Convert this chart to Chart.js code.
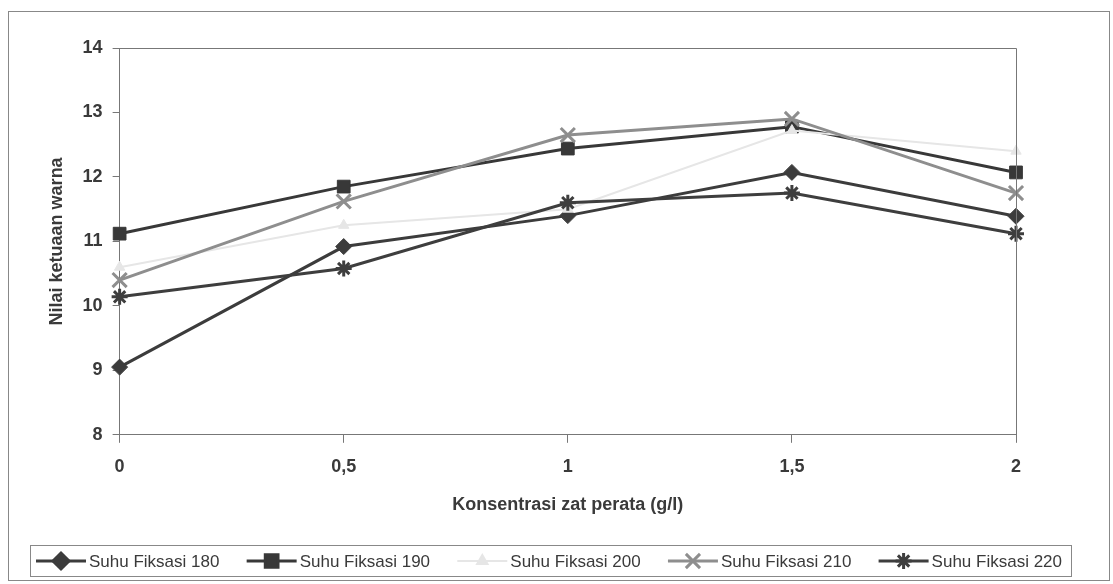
<!DOCTYPE html>
<html>
<head>
<meta charset="utf-8">
<script src="https://cdn.jsdelivr.net/npm/chart.js"></script>
<style>
  html, body { margin: 0; padding: 0; background: #fff; }
  #wrap { width: 1113px; height: 584px; }
</style>
</head>
<body>
<div id="wrap"><canvas id="c" width="1113" height="584"></canvas></div>
<script>
const labels = ['0', '0,5', '1', '1,5', '2'];
const suhu180 = [9.05, 10.92, 11.4, 12.07, 11.39];
const suhu190 = [11.12, 11.85, 12.44, 12.78, 12.07];
const suhu200 = [10.6, 11.25, 11.5, 12.72, 12.4];
const suhu210 = [10.4, 11.62, 12.65, 12.9, 11.75];
const suhu220 = [10.14, 10.58, 11.6, 11.75, 11.12];
const seriesNames = ['Suhu Fiksasi 180', 'Suhu Fiksasi 190', 'Suhu Fiksasi 200', 'Suhu Fiksasi 210', 'Suhu Fiksasi 220'];

const textCol = '#3a3a3a';

function ds(label, data, color, style, radius, bw, width, order) {
  return {
    label, data, order,
    borderColor: color, backgroundColor: color,
    borderWidth: width,
    pointStyle: style, pointRadius: radius,
    pointBorderWidth: bw,
    pointBackgroundColor: color, pointBorderColor: color,
    tension: 0
  };
}

// box around plot, outer frame and the legend
const frame = {
  id: 'frame',
  afterDraw(chart) {
    const ctx = chart.ctx, a = chart.chartArea;
    ctx.save();
    ctx.strokeStyle = '#777';
    ctx.lineWidth = 1;
    ctx.beginPath();
    ctx.moveTo(a.left, a.top + 0.5);
    ctx.lineTo(Math.round(a.right) + 0.5, a.top + 0.5);
    ctx.lineTo(Math.round(a.right) + 0.5, a.bottom);
    ctx.stroke();
    ctx.strokeStyle = '#888';
    ctx.strokeRect(8.5, 11.5, 1101, 569);

    // legend
    const bx = 30.5, by = 545.5, bw = 1041, bh = 31;
    ctx.strokeRect(bx, by, bw, bh);
    ctx.font = '17px "Liberation Sans", Arial, sans-serif';
    ctx.textBaseline = 'middle';
    ctx.fillStyle = textCol;
    const sets = chart.data.datasets;
    const lineLen = 50, gapT = 3;
    let total = 0;
    const widths = sets.map(d => ctx.measureText(d.label).width);
    widths.forEach(w => total += lineLen + gapT + w);
    const x0 = 36, x1 = 1062;
    const gap = (x1 - x0 - total) / (sets.length - 1);
    let x = x0;
    const cy = by + bh / 2;
    sets.forEach((d, i) => {
      ctx.strokeStyle = d.borderColor;
      ctx.lineWidth = d.borderWidth;
      ctx.beginPath();
      ctx.moveTo(x, cy);
      ctx.lineTo(x + lineLen, cy);
      ctx.stroke();
      ctx.fillStyle = d.backgroundColor;
      Chart.helpers.drawPoint(ctx, {
        pointStyle: d.pointStyle, radius: d.pointRadius,
        rotation: 0, borderWidth: d.pointBorderWidth
      }, x + lineLen / 2, cy);
      ctx.fillStyle = textCol;
      ctx.fillText(d.label, x + lineLen + gapT, cy + 1);
      x += lineLen + gapT + widths[i] + gap;
    });
    ctx.restore();
  }
};

new Chart(document.getElementById('c'), {
  type: 'line',
  data: {
    labels: labels,
    datasets: [
      ds(seriesNames[0], suhu180, '#3c3c3c', 'rectRot', 8, 1, 3, 5),
      ds(seriesNames[1], suhu190, '#383838', 'rect', 9, 1, 3, 4),
      ds(seriesNames[2], suhu200, '#e6e6e6', 'triangle', 6, 1, 2, 3),
      ds(seriesNames[3], suhu210, '#8e8e8e', 'crossRot', 10, 3, 3, 2),
      ds(seriesNames[4], suhu220, '#3e3e3e', 'star', 8, 3, 3, 1)
    ]
  },
  options: {
    responsive: false,
    animation: false,
    layout: { padding: { left: 24, right: 97, top: 48, bottom: 64 } },
    plugins: { legend: { display: false }, tooltip: { enabled: false } },
    scales: {
      x: {
        offset: false,
        grid: { drawOnChartArea: false, drawTicks: true, tickLength: 8, color: '#777' },
        border: { display: true, color: '#777', width: 1 },
        ticks: { color: textCol, padding: 13, maxRotation: 0,
          font: { family: '"Liberation Sans", Arial, sans-serif', size: 18, weight: 'bold' } },
        title: { display: true, text: 'Konsentrasi zat perata (g/l)', color: textCol,
          padding: { top: 4, bottom: 4 },
          font: { family: '"Liberation Sans", Arial, sans-serif', size: 18, weight: 'bold' } }
      },
      y: {
        min: 8, max: 14,
        grid: { drawOnChartArea: false, drawTicks: true, tickLength: 7, color: '#777' },
        border: { display: true, color: '#777', width: 1 },
        ticks: { stepSize: 1, color: textCol, padding: 10,
          font: { family: '"Liberation Sans", Arial, sans-serif', size: 18, weight: 'bold' } },
        title: { display: true, text: 'Nilai ketuaan warna', color: textCol,
          padding: { top: 22, bottom: 5 },
          font: { family: '"Liberation Sans", Arial, sans-serif', size: 18, weight: 'bold' } }
      }
    }
  },
  plugins: [frame]
});
</script>
</body>
</html>
